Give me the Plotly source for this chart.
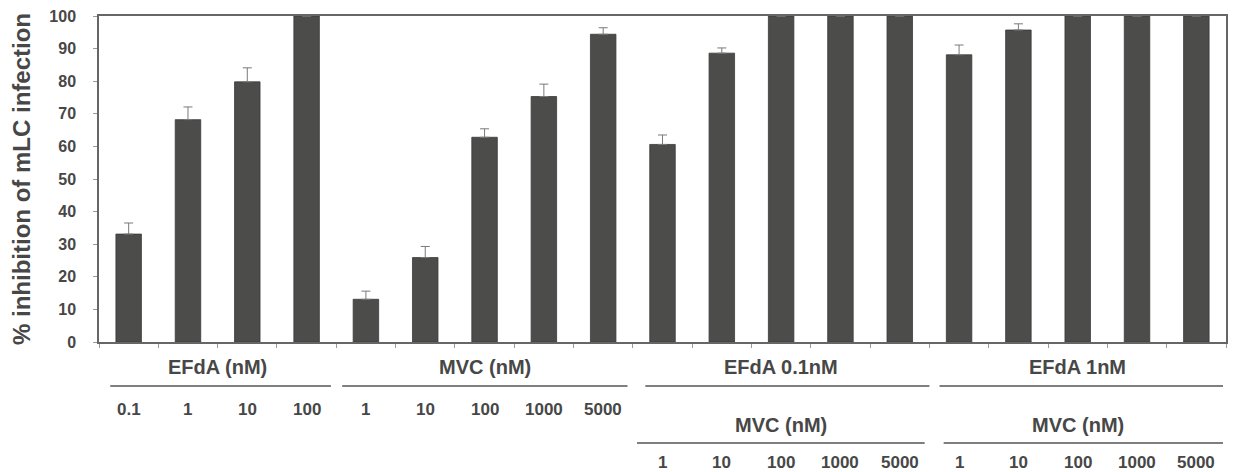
import plotly.graph_objects as go

# ---- data ----
conditions = ["EFdA 0.1", "EFdA 1", "EFdA 10", "EFdA 100",
              "MVC 1", "MVC 10", "MVC 100", "MVC 1000", "MVC 5000",
              "E0.1+MVC 1", "E0.1+MVC 10", "E0.1+MVC 100", "E0.1+MVC 1000", "E0.1+MVC 5000",
              "E1+MVC 1", "E1+MVC 10", "E1+MVC 100", "E1+MVC 1000", "E1+MVC 5000"]
inhibition = [33.1, 68.2, 79.8, 100,
              13.1, 25.9, 62.8, 75.3, 94.4,
              60.6, 88.6, 100, 100, 100,
              88.1, 95.7, 100, 100, 100]
error_up = [3.4, 3.9, 4.3, 0,
            2.5, 3.4, 2.6, 3.8, 2.0,
            2.9, 1.6, 0, 0, 0,
            3.0, 1.9, 0, 0, 0]
dose_labels = ["0.1", "1", "10", "100",
               "1", "10", "100", "1000", "5000",
               "1", "10", "100", "1000", "5000",
               "1", "10", "100", "1000", "5000"]
group_titles = ["EFdA (nM)", "MVC (nM)", "EFdA 0.1nM", "EFdA 1nM"]
group_spans = [(0, 3), (4, 8), (9, 13), (14, 18)]
sub_titles = ["MVC (nM)", "MVC (nM)"]
sub_spans = [(9, 13), (14, 18)]

x = list(range(len(conditions)))
TXT = "#474747"
FONT = "Liberation Sans, Arial, sans-serif"

fig = go.Figure()
fig.add_trace(go.Bar(
    x=x, y=inhibition, width=0.43,
    marker=dict(color="#4c4c4a", line=dict(color="#3a3a3a", width=0.8)),
    error_y=dict(type="data", symmetric=False, array=error_up, arrayminus=[0] * len(x),
                 color="#7a7a7a", thickness=1, width=4.5),
    hovertext=conditions,
))

# plot area: top 16 px, bottom 342 px, height 326
def py(pix):
    return (342 - pix) / 326.0

annotations = []
shapes = []
for (a, b), t in zip(group_spans, group_titles):
    annotations.append(dict(x=(a + b) / 2, y=py(367), xref="x", yref="paper",
                            xanchor="center", yanchor="middle",
                            text="<b>%s</b>" % t, showarrow=False,
                            font=dict(size=20, color=TXT, family=FONT)))
line1 = [(-0.31, 3.41), (3.60, 8.41), (8.71, 13.50), (13.67, 18.45)]
for (x0, x1) in line1:
    shapes.append(dict(type="line", xref="x", yref="paper", x0=x0, x1=x1,
                       y0=py(386), y1=py(386), line=dict(color="#555555", width=1.5)))
for i, lab in enumerate(dose_labels):
    ypix = 409 if i < 9 else 462
    annotations.append(dict(x=i, y=py(ypix), xref="x", yref="paper",
                            xanchor="center", yanchor="middle",
                            text="<b>%s</b>" % lab, showarrow=False,
                            font=dict(size=17, color=TXT, family=FONT)))
for (a, b), t in zip(sub_spans, sub_titles):
    annotations.append(dict(x=(a + b) / 2, y=py(425), xref="x", yref="paper",
                            xanchor="center", yanchor="middle",
                            text="<b>%s</b>" % t, showarrow=False,
                            font=dict(size=20, color=TXT, family=FONT)))
line2 = [(8.57, 13.42), (13.74, 18.45)]
for (x0, x1) in line2:
    shapes.append(dict(type="line", xref="x", yref="paper", x0=x0, x1=x1,
                       y0=py(443), y1=py(443), line=dict(color="#555555", width=1.5)))

fig.update_layout(
    width=1235, height=472,
    margin=dict(l=99, r=7, t=16, b=130),
    paper_bgcolor="white", plot_bgcolor="white",
    showlegend=False,
    annotations=annotations, shapes=shapes,
    font=dict(family=FONT, color=TXT),
    xaxis=dict(range=[-0.5, 18.5], tickmode="array",
               tickvals=[i - 0.5 for i in range(len(x) + 1)], ticktext=[""] * (len(x) + 1),
               ticks="outside", ticklen=4, tickcolor="#999999", tickwidth=1,
               showline=True, linecolor="#666666", linewidth=1.5, mirror=True,
               showgrid=False, zeroline=False, fixedrange=True),
    yaxis=dict(range=[0, 100], tickmode="array", tickvals=list(range(0, 101, 10)),
               ticktext=["<b>%d</b>" % v for v in range(0, 101, 10)],
               tickfont=dict(size=16, color=TXT, family=FONT),
               ticks="outside", ticklen=4, tickcolor="#999999", tickwidth=1,
               ticklabelstandoff=14,
               showline=True, linecolor="#666666", linewidth=1.5, mirror=True,
               showgrid=False, zeroline=False,
               title=dict(text="<b>% inhibition of mLC infection</b>",
                          font=dict(size=24, color=TXT, family=FONT), standoff=12)),
)

fig.write_html("out.html", config={"displayModeBar": False})
with open("out.html", "r", encoding="utf-8") as f:
    html = f.read()
html = html.replace("<body>", '<body style="margin:0;padding:0;overflow:hidden;">', 1)
with open("out.html", "w", encoding="utf-8") as f:
    f.write(html)
